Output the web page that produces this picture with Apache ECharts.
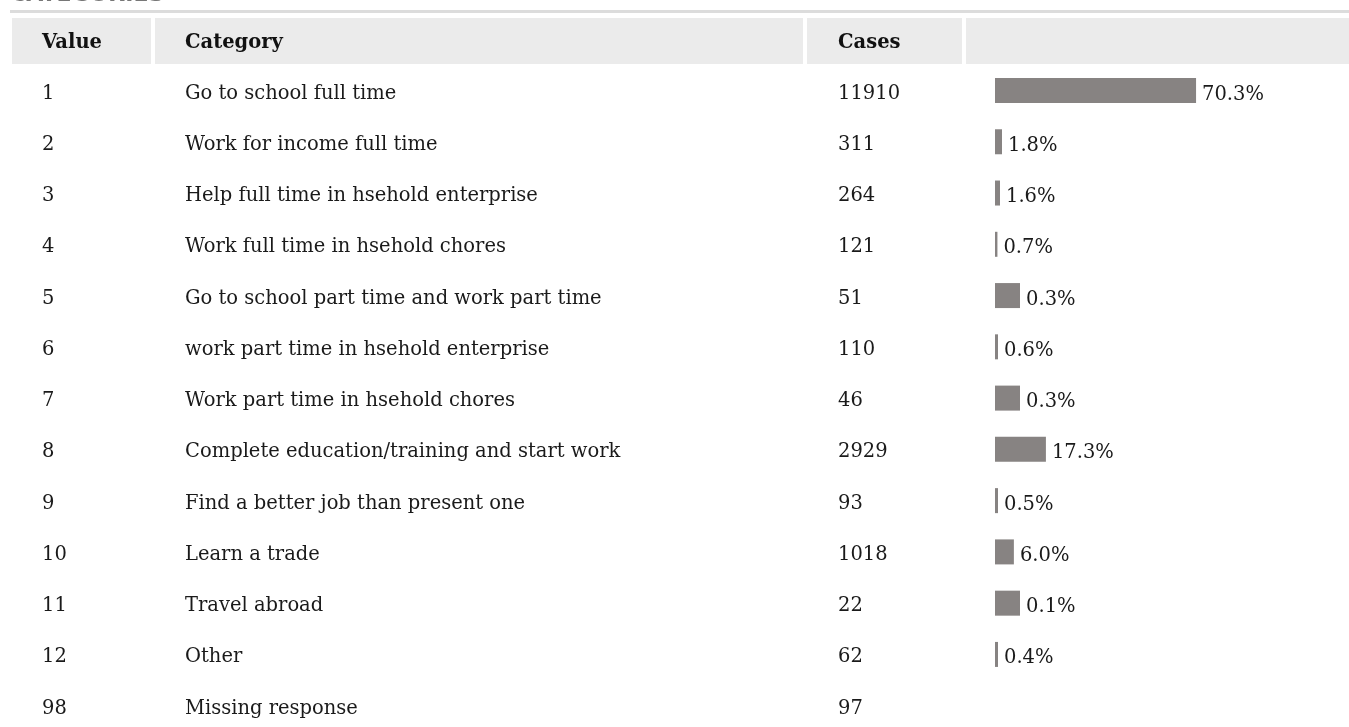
<!DOCTYPE html>
<html><head><meta charset="utf-8">
<script src="https://cdn.jsdelivr.net/npm/echarts@6/dist/echarts.min.js"></script>
<style>html,body{margin:0;padding:0;background:#fff;}#c{width:1349px;height:727px;}</style>
</head><body><div id="c"></div>
<script>
var codes = ['1','2','3','4','5','6','7','8','9','10','11','12','98'];
var categories = ['Go to school full time','Work for income full time','Help full time in hsehold enterprise','Work full time in hsehold chores','Go to school part time and work part time','work part time in hsehold enterprise','Work part time in hsehold chores','Complete education/training and start work','Find a better job than present one','Learn a trade','Travel abroad','Other','Missing response'];
var cases = [11910,311,264,121,51,110,46,2929,93,1018,22,62,97];
var pctLabels = ['70.3%','1.8%','1.6%','0.7%','0.3%','0.6%','0.3%','17.3%','0.5%','6.0%','0.1%','0.4%',''];
// bar lengths as drawn in the reference (percent of bar column)
var barLength = [70.3,2.45,1.75,0.85,8.75,1.05,8.75,17.8,1.05,6.6,8.75,1.05,null];
var headers = ['Value','Category','Cases',''];

var FONT = 'DejaVu Serif';
var FS = 19.5;
var chart = echarts.init(document.getElementById('c'));
var rows = codes.map(function(c,i){return i;});
var GL = 995;
function textAxis(data, x){
  return {type:'category', data:data, inverse:true, boundaryGap:false, position:'left', gridIndex:1,
    axisLine:{show:false}, axisTick:{show:false}, splitLine:{show:false},
    axisLabel:{show:true, interval:0, align:'left', margin:GL - x, color:'#1a1a1a', fontFamily:FONT, fontSize:FS}};
}
var headerCells = [[12,139],[155,648],[807,155],[966,383]];
var headerX = [42,185,838,0];
var graphics = [{type:'rect', shape:{x:10,y:10,width:1339,height:3}, style:{fill:'#dcdcdc'}},
  {type:'text', x:10, y:-16, style:{text:'CATEGORIES', fill:'#777', font:'bold 22px "DejaVu Sans"'}}];
headerCells.forEach(function(c,i){
  graphics.push({type:'rect', shape:{x:c[0],y:18,width:c[1],height:46}, style:{fill:'#ebebeb'}});
  if(headers[i]) graphics.push({type:'text', x:headerX[i], y:43, style:{text:headers[i], fill:'#111', font:'bold '+FS+'px "'+FONT+'"', verticalAlign:'middle'}});
});
chart.setOption({
  animation:false,
  graphic:graphics,
  grid:[{left:GL, top:90.5, width:286, height:615.2},
        {left:GL, top:93.5, width:286, height:615.2}],
  xAxis:[{type:'value', min:0, max:100, show:false, gridIndex:0},
         {type:'value', min:0, max:100, show:false, gridIndex:1}],
  yAxis:[
    {type:'category', data:rows, inverse:true, boundaryGap:false, show:false, gridIndex:0},
    textAxis(codes,42), textAxis(categories,185), textAxis(cases.map(String),838)
  ],
  series:[{type:'bar', data:barLength, barWidth:25, itemStyle:{color:'#878382'},
    label:{show:true, position:'right', distance:6, offset:[0,4], color:'#1a1a1a', fontFamily:FONT, fontSize:FS,
      formatter:function(p){return pctLabels[p.dataIndex];}}}]
});
</script></body></html>
